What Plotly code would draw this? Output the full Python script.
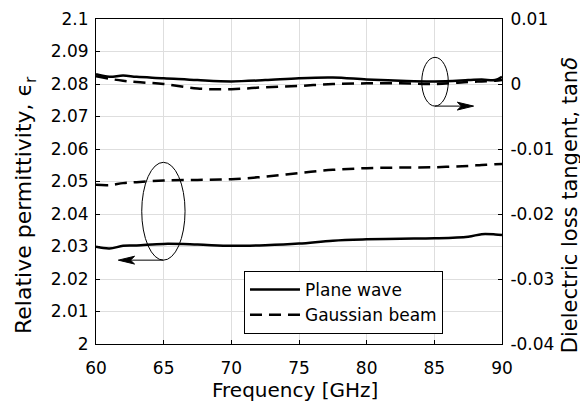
import plotly.graph_objects as go

# frequency points [GHz]
freq = [60, 61, 62, 63, 65, 67.5, 70, 72.5, 75, 77.5, 80, 82.5, 85, 87.5, 88.5, 89.5, 90]

# relative permittivity (left axis)
eps_pw = [2.0299, 2.0294, 2.0302, 2.0303, 2.0308, 2.0306, 2.0302, 2.0304, 2.0309,
          2.0318, 2.0322, 2.0324, 2.0325, 2.0330, 2.0338, 2.0337, 2.0335]
eps_gb = [2.0490, 2.0489, 2.0495, 2.0498, 2.0503, 2.0505, 2.0507, 2.0515, 2.0526,
          2.0536, 2.0541, 2.0543, 2.0544, 2.0548, 2.0551, 2.0553, 2.0554]

# loss tangent (right axis)
tan_pw = [0.0015, 0.0011, 0.0013, 0.0011, 0.0009, 0.0006, 0.0004, 0.0006, 0.0009,
          0.0010, 0.0007, 0.0005, 0.0004, 0.0006, 0.0007, 0.0006, 0.0011]
tan_gb = [0.0012, 0.0008, 0.0005, 0.0003, 0.0000, -0.0007, -0.0008, -0.0005, -0.0003,
          0.0000, 0.0001, 0.0001, 0.0000, 0.0003, 0.0004, 0.0005, 0.0006]

x_ticks = [60, 65, 70, 75, 80, 85, 90]
y_ticks = [2, 2.01, 2.02, 2.03, 2.04, 2.05, 2.06, 2.07, 2.08, 2.09, 2.1]
y_ticktext = ["2", "2.01", "2.02", "2.03", "2.04", "2.05", "2.06", "2.07", "2.08", "2.09", "2.1"]
y2_ticks = [-0.04, -0.03, -0.02, -0.01, 0, 0.01]
y2_ticktext = ["-0.04", "-0.03", "-0.02", "-0.01", "0", "0.01"]

font = "DejaVu Sans, sans-serif"
dash = "12px,7px"

fig = go.Figure()
fig.add_trace(go.Scatter(x=freq, y=eps_pw, mode="lines", name="Plane wave",
                         line=dict(color="black", width=2.5), line_shape="spline"))
fig.add_trace(go.Scatter(x=freq, y=eps_gb, mode="lines", name="Gaussian beam",
                         line=dict(color="black", width=2.5, dash=dash), line_shape="spline"))
fig.add_trace(go.Scatter(x=freq, y=tan_pw, mode="lines", yaxis="y2", showlegend=False,
                         line=dict(color="black", width=2.5), line_shape="spline"))
fig.add_trace(go.Scatter(x=freq, y=tan_gb, mode="lines", yaxis="y2", showlegend=False,
                         line=dict(color="black", width=2.5, dash=dash), line_shape="spline"))

thin = dict(color="black", width=1)
# ellipses marking which curves belong to which axis
fig.add_shape(type="circle", xref="x", yref="y", x0=84.07, x1=86.03, y0=2.0732, y1=2.0882, line=thin)
fig.add_shape(type="circle", xref="x", yref="y", x0=63.38, x1=66.58, y0=2.0258, y1=2.0559, line=thin)
# arrows
fig.add_shape(type="line", xref="x", yref="y", x0=85.05, x1=87.5, y0=2.0732, y1=2.0732, line=thin)
fig.add_shape(type="path", xref="x", yref="y", line=thin, fillcolor="black",
              path="M 87.9,2.0732 L 86.7,2.0744 L 87.0,2.0732 L 86.7,2.0720 Z")
fig.add_shape(type="line", xref="x", yref="y", x0=64.98, x1=62.0, y0=2.0258, y1=2.0258, line=thin)
fig.add_shape(type="path", xref="x", yref="y", line=thin, fillcolor="black",
              path="M 61.65,2.0258 L 62.85,2.0270 L 62.55,2.0258 L 62.85,2.0246 Z")

# axis titles as annotations so they can be placed like the original
fig.add_annotation(text="Relative permittivity, ϵ<sub>r</sub>", xref="paper", yref="paper",
                   x=-0.1724, y=0.4277, xanchor="center", yanchor="middle",
                   textangle=-90, showarrow=False, font=dict(size=22))
fig.add_annotation(text="Dielectric loss tangent, tan<i>δ</i>", xref="paper", yref="paper",
                   x=1.168, y=0.4277, xanchor="center", yanchor="middle",
                   textangle=-90, showarrow=False, font=dict(size=21))
fig.add_annotation(text="Frequency [GHz]", xref="paper", yref="paper",
                   x=0.490, y=-0.1415, xanchor="center", yanchor="middle",
                   showarrow=False, font=dict(size=20))

axis_common = dict(showline=True, linecolor="black", linewidth=1, ticks="inside", ticklen=4,
                   tickcolor="black", tickfont=dict(size=17, color="black"), automargin=False,
                   zeroline=False)

fig.update_layout(
    width=580, height=395,
    margin=dict(l=88, r=86, t=11, b=59),
    plot_bgcolor="white", paper_bgcolor="white",
    font=dict(family=font, color="black", size=17),
    xaxis=dict(range=[60, 90], tickvals=x_ticks, showgrid=True, gridcolor="#dedede",
               mirror=True, ticklabelstandoff=9, **axis_common),
    yaxis=dict(range=[2, 2.1], tickvals=y_ticks, ticktext=y_ticktext, showgrid=True,
               gridcolor="#dedede", ticklabelstandoff=3, **axis_common),
    yaxis2=dict(range=[-0.04, 0.01], tickvals=y2_ticks, ticktext=y2_ticktext, overlaying="y",
                side="right", showgrid=False, ticklabelstandoff=4, **axis_common),
    legend=dict(x=0.3645, y=0.2246, xanchor="left", yanchor="top", bgcolor="white",
                bordercolor="black", borderwidth=1, font=dict(size=17),
                tracegroupgap=0, itemwidth=50),
    showlegend=True,
)

fig.write_html("out.html")
